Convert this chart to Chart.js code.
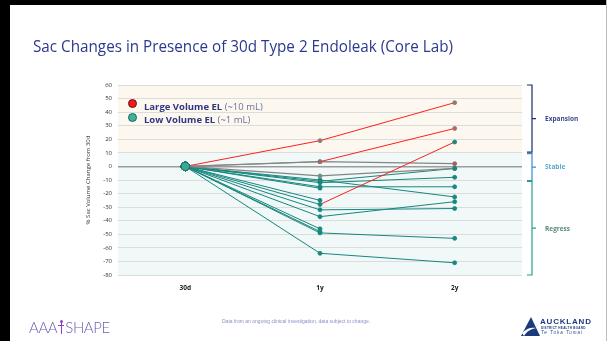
<!DOCTYPE html>
<html><head><meta charset="utf-8">
<script src="https://cdn.jsdelivr.net/npm/chart.js@4/dist/chart.umd.min.js"></script>
<style>
html,body{margin:0;padding:0;background:#fff;}
#page{position:relative;width:608px;height:341px;overflow:hidden;background:#fff;font-family:"Liberation Sans",Arial,sans-serif;}
.abs{position:absolute;}
#frameL{left:0;top:0;width:10px;height:341px;background:#000;}
#frameT{left:0;top:0;width:607px;height:5px;background:#000;}
#frameR{left:606px;top:0;width:1px;height:341px;background:#bdbdbd;}
#chartWrap{left:0;top:0;width:608px;height:341px;}
#title{left:33px;top:34px;font-size:17px;color:#2b3990;white-space:nowrap;transform-origin:0 0;font-family:"Open Sans",sans-serif;}
.leg{font-size:9.5px;white-space:nowrap;color:#6b70a3;font-family:"Open Sans",sans-serif;}
.leg b{color:#2e3582;}
.dot{width:9px;height:9px;border-radius:50%;box-sizing:border-box;}
.blab{font-size:6.5px;font-weight:bold;white-space:nowrap;font-family:"Open Sans",sans-serif;}
#note{left:222px;top:318px;font-size:5px;color:#8b8fc9;white-space:nowrap;}
#logo{left:29px;top:318px;font-size:15px;color:#6b62b0;white-space:nowrap;font-family:"Lato",sans-serif;font-weight:300;letter-spacing:-0.4px;}
#fig{display:inline-block;width:6px;height:14px;position:relative;vertical-align:-1px;margin:0 1px;}
#akl{left:540px;top:317px;font-size:8px;font-weight:bold;color:#1b3a7c;letter-spacing:0.8px;white-space:nowrap;}
#akl2{left:541px;top:326px;font-size:3px;font-weight:bold;color:#1b3a7c;letter-spacing:0.3px;white-space:nowrap;}
#akl3{left:541px;top:330px;font-size:4.5px;font-style:italic;color:#2b4a8c;letter-spacing:1px;white-space:nowrap;}
</style></head>
<body>
<div id="page">
  <div id="chartWrap" class="abs"><canvas id="c" width="608" height="341"></canvas></div>
  <div id="frameL" class="abs"></div>
  <div id="frameT" class="abs"></div>
  <div id="frameR" class="abs"></div>
  <div id="title" class="abs">Sac Changes in Presence of 30d Type 2 Endoleak (Core Lab)</div>

  <div class="abs dot" style="left:128px;top:99px;background:#ff1414;border:1px solid #5a1a1a;"></div>
  <div class="abs leg" style="left:144px;top:100px;"><b>Large Volume EL</b> (~10 mL)</div>
  <div class="abs dot" style="left:128px;top:113px;background:#3bb39b;border:1px solid #1d6658;"></div>
  <div class="abs leg" style="left:144px;top:113px;"><b>Low Volume EL</b> (~1 mL)</div>

  <div class="abs blab" style="left:545px;top:114px;color:#3a4a8a;">Expansion</div>
  <div class="abs blab" style="left:545px;top:162px;color:#5aa9d6;">Stable</div>
  <div class="abs blab" style="left:545px;top:224px;color:#5b8c80;">Regress</div>

  <div id="logo" class="abs">AAA<span id="fig"><span style="position:absolute;left:1.5px;top:0;width:3px;height:3px;border-radius:50%;background:#8a3fc4;"></span><span style="position:absolute;left:2.3px;top:3px;width:1.6px;height:11px;background:#8a3fc4;"></span><span style="position:absolute;left:0;top:5px;width:6px;height:1.2px;background:#8a3fc4;"></span></span>SHAPE</div>
  <div id="note" class="abs">Data from an ongoing clinical investigation, data subject to change.</div>
  <svg class="abs" style="left:520px;top:317px" width="20" height="20" viewBox="0 0 20 20">
    <polygon points="11,0 20,19 1,19" fill="#1b3a7c"/>
    <path d="M2,16 C7,11 11,10 16,11 C11,12 7,14 4,19 Z" fill="#fff"/>
  </svg>
  <div id="akl" class="abs">AUCKLAND</div>
  <div id="akl2" class="abs">DISTRICT HEALTH BOARD</div>
  <div id="akl3" class="abs">Te Toka Tumai</div>
</div>
<script>
// ---- data ----
const categories = ['30d', '1y', '2y'];
const yTickValues = [60, 50, 40, 30, 20, 10, 0, -10, -20, -30, -40, -50, -60, -70, -80];
const large1 = [0, 19, 47];
const large2 = [0, 3.5, 28];
const large3 = [0, -28, 18];
const gray1 = [0, 3.5, 2];
const gray2 = [0, -7, -1.5];
const low1 = [0, -11, -1.5];
const low2 = [0, -10, -22.5];
const low3 = [0, -12, -8];
const low4 = [0, -15, -15];
const low5 = [0, -16, null];
const low6 = [0, -25, null];
const low7 = [0, -32, -31];
const low8 = [0, -37, -26];
const low9 = [0, -46, null];
const low10 = [0, -48, null];
const low11 = [0, -49, -53];
const low12 = [0, -64, -71];
const expansionRange = [60, 10.5];
const stableRange = [9.5, -10.5];
const regressRange = [-11, -80];

// fit title width
(function(){const t=document.getElementById('title');const w=t.getBoundingClientRect().width;t.style.transform='scaleX('+(420/w)+')';})();

const RED='#ff1f1f', TEAL='#17877f', GRAY='#858585';
function ds(data, color, ptColors, width, firstSegColor){
  return {
    data, borderColor: color, borderWidth: width||1,
    segment: firstSegColor ? {borderColor:(c)=> c.p0DataIndex===0 ? firstSegColor : color} : undefined,
    pointRadius: (c)=> c.dataIndex===0 ? 4.2 : 2,
    pointBackgroundColor: (c)=> c.dataIndex===0 ? '#3aa898' : ptColors[c.dataIndex],
    pointBorderColor: (c)=> c.dataIndex===0 ? '#1b6b62' : ptColors[c.dataIndex],
    pointBorderWidth: 0.8,
    tension: 0, spanGaps: false
  };
}
const datasets = [
  ds(large1, RED, [null,'#8a7a7a','#8a7a7a']),
  ds(large2, RED, [null,'#9a6a6a','#a86a6a'], 1, GRAY),
  ds(large3, RED, [null,'#17877f','#17877f'], 1, TEAL),
  ds(gray1, GRAY, [null,GRAY,'#a06060'], 1.3),
  ds(gray2, GRAY, [null,'#6f8f7f',TEAL], 1.3),
  ds(low1, TEAL, [null,TEAL,TEAL]),
  ds(low2, TEAL, [null,TEAL,TEAL]),
  ds(low3, TEAL, [null,TEAL,TEAL]),
  ds(low4, TEAL, [null,TEAL,TEAL]),
  ds(low5, TEAL, [null,TEAL,TEAL]),
  ds(low6, TEAL, [null,TEAL,TEAL]),
  ds(low7, TEAL, [null,TEAL,TEAL]),
  ds(low8, TEAL, [null,TEAL,TEAL]),
  ds(low9, TEAL, [null,TEAL,TEAL]),
  ds(low10, TEAL, [null,TEAL,TEAL]),
  ds(low11, TEAL, [null,TEAL,TEAL]),
  ds(low12, TEAL, [null,TEAL,TEAL])
];

const bandsPlugin = {
  id:'bands',
  beforeDraw(chart){
    const {ctx, chartArea:a, scales:{y}} = chart;
    ctx.save();
    const y10 = y.getPixelForValue(10);
    ctx.fillStyle='#fdf8ef';
    ctx.fillRect(a.left, a.top, a.right-a.left, y10-a.top);
    ctx.fillStyle='#f1f8f8';
    ctx.fillRect(a.left, y10, a.right-a.left, a.bottom-y10+1);
    ctx.restore();
  },
  afterDraw(chart){
    const {ctx, scales:{y}} = chart;
    const x = 532;
    function bracket(r, color){
      const t=y.getPixelForValue(r[0]), b=y.getPixelForValue(r[1]), m=(t+b)/2;
      ctx.strokeStyle=color; ctx.lineWidth=1.2;
      ctx.beginPath();
      ctx.moveTo(x-5,t); ctx.lineTo(x,t); ctx.lineTo(x,b); ctx.lineTo(x-5,b);
      ctx.moveTo(x,m); ctx.lineTo(x+4,m);
      ctx.stroke();
    }
    ctx.save();
    bracket(expansionRange,'#1c2a6e');
    bracket(stableRange,'#2f8fd0');
    bracket(regressRange,'#2a9d8f');
    ctx.restore();
  }
};

new Chart(document.getElementById('c'), {
  type:'line',
  data:{labels:categories, datasets},
  options:{
    responsive:false, animation:false,
    layout:{padding:{left:82, right:86, top:85, bottom:46}},
    plugins:{legend:{display:false}, tooltip:{enabled:false}},
    scales:{
      x:{
        offset:true,
        grid:{display:false, drawTicks:false},
        border:{display:false},
        ticks:{padding:9, color:'#222', font:{size:6.5, weight:'bold', family:'"Open Sans"'}},
        afterFit(s){ s.height=20; }
      },
      y:{
        min:-80, max:60,
        afterBuildTicks(s){ s.ticks = yTickValues.map(v=>({value:v})); },
        grid:{drawTicks:false, color:(c)=> c.tick && c.tick.value===0 ? '#9b9b9b' : '#dcdcdc', lineWidth:(c)=> c.tick && c.tick.value===0 ? 1.5 : 1},
        border:{display:false},
        ticks:{padding:6, color:'#333', font:{size:6, family:'"Open Sans"'}},
        title:{display:true, text:'% Sac Volume Change from 30d', color:'#333', font:{size:6, family:'"Open Sans"'}, padding:{top:3,bottom:0}},
        afterFit(s){ s.width=36; }
      }
    }
  },
  plugins:[bandsPlugin]
});
</script>
</body></html>
